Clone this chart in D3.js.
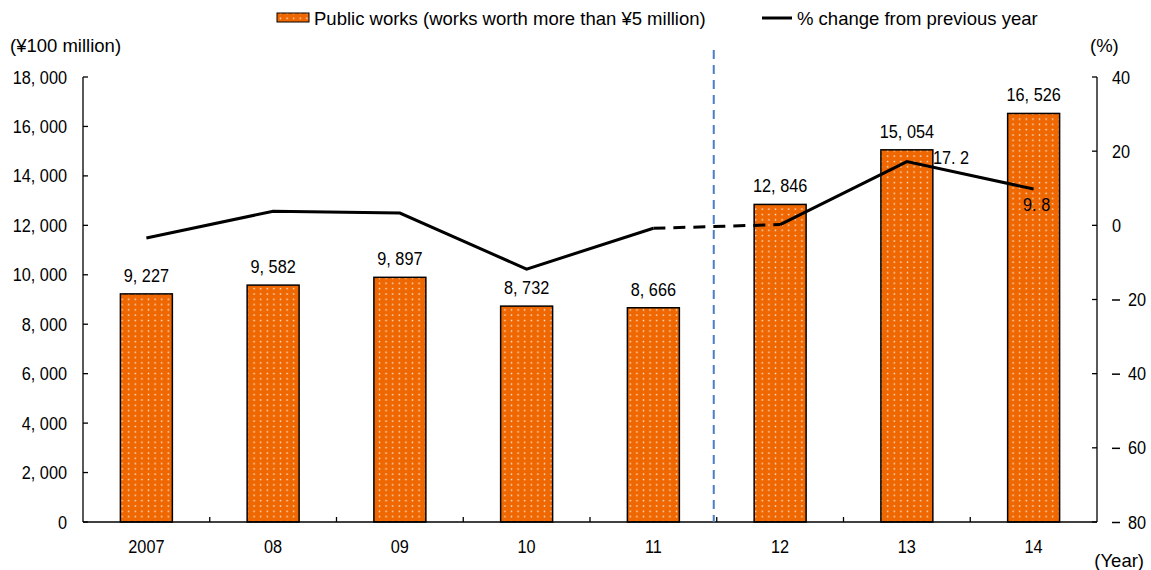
<!DOCTYPE html>
<html><head><meta charset="utf-8">
<script src="https://cdn.jsdelivr.net/npm/d3@7"></script>
<style>body{margin:0;background:#fff}svg{display:block}text{font-family:"Liberation Sans",Arial,sans-serif;fill:#000}</style>
</head><body><svg id="c" width="1151" height="570"></svg>
<script>
const years = ["2007","08","09","10","11","12","13","14"];
const works = [9227,9582,9897,8732,8666,12846,15054,16526];
const pctChange = [-3.4,3.8,3.3,-11.8,-0.8,0.2,17.2,9.8];
const leftTicks = [0,2000,4000,6000,8000,10000,12000,14000,16000,18000];
const rightTicks = [-80,-60,-40,-20,0,20,40];

const svg = d3.select("#c");
const L = 83, R = 1097, T = 77, B = 522;
const x = d3.scaleBand().domain(years).range([L,R]).paddingInner(0.59).paddingOuter(0.295);
const yL = d3.scaleLinear().domain([0,18000]).range([B,T]);
const yR = d3.scaleLinear().domain([-80,40]).range([B,T]);
const fmt = v => d3.format(",")(v).replace(/,/g,", ");

// numbers are set in a tall, narrow face: horizontally condensed text
function num(parent, px, py, str, anchor) {
  return parent.append("text")
    .attr("transform", `translate(${px},${py}) scale(0.88,1)`)
    .attr("text-anchor", anchor || "middle")
    .attr("font-size", 18.5).text(str);
}

// dotted fill for bars
const defs = svg.append("defs");
const pat = defs.append("pattern").attr("id","dots").attr("patternUnits","userSpaceOnUse")
  .attr("width",6.6).attr("height",10.6);
pat.append("rect").attr("width",6.6).attr("height",10.6).attr("fill","#ef6700");
pat.append("rect").attr("x",2.6).attr("y",1.8).attr("width",1.4).attr("height",1.4).attr("fill","#ffffff").attr("opacity",0.9);
pat.append("rect").attr("x",2.6).attr("y",7.1).attr("width",1.4).attr("height",1.4).attr("fill","#ffffff").attr("opacity",0.9);

// bars
svg.append("g").selectAll("rect").data(years).join("rect")
  .attr("x",d=>x(d)).attr("width",x.bandwidth())
  .attr("y",(d,i)=>yL(works[i])).attr("height",(d,i)=>B-yL(works[i]))
  .attr("fill","url(#dots)").attr("stroke","#000").attr("stroke-width",1.5);

// bar value labels
const vl = svg.append("g");
years.forEach((d,i)=>num(vl, x(d)+x.bandwidth()/2, yL(works[i])-12, fmt(works[i])));

// axes
const axis = svg.append("g").attr("stroke","#000").attr("stroke-width",1.3);
axis.append("line").attr("x1",L).attr("x2",L).attr("y1",T).attr("y2",B);
axis.append("line").attr("x1",R).attr("x2",R).attr("y1",T).attr("y2",B);
axis.append("line").attr("x1",L).attr("x2",R).attr("y1",B).attr("y2",B);
leftTicks.forEach(v=>axis.append("line").attr("x1",L).attr("x2",L+5).attr("y1",yL(v)).attr("y2",yL(v)));
rightTicks.forEach(v=>axis.append("line").attr("x1",R-5).attr("x2",R).attr("y1",yR(v)).attr("y2",yR(v)));
const step = x.step();
d3.range(1,years.length).forEach(i=>{
  const bx = L + step*i;
  axis.append("line").attr("x1",bx).attr("x2",bx).attr("y1",B).attr("y2",B-5);
});

const lt = svg.append("g");
leftTicks.forEach(v=>num(lt, 67, yL(v)+6.5, fmt(v), "end"));
const rt = svg.append("g");
rightTicks.forEach(v=>{
  if (v<0) {
    rt.append("line").attr("x1",1112).attr("x2",1120).attr("y1",yR(v)+0.5).attr("y2",yR(v)+0.5).attr("stroke","#000").attr("stroke-width",1.5);
    num(rt, 1128, yR(v)+6.5, String(Math.abs(v)), "start");
  } else {
    num(rt, 1112, yR(v)+6.5, String(v), "start");
  }
});
const xl = svg.append("g");
years.forEach(d=>num(xl, x(d)+x.bandwidth()/2, 553, d));

svg.append("text").attr("x",10).attr("y",52).attr("font-size",18.5).text("(¥100 million)");
svg.append("text").attr("x",1090).attr("y",52).attr("font-size",18.5).text("(%)");
svg.append("text").attr("x",1144).attr("y",567).attr("text-anchor","end").attr("font-size",18.5).text("(Year)");

// break between 2011 and 2012
const bxBreak = L + step*5 - 3;
svg.append("line").attr("x1",bxBreak).attr("x2",bxBreak).attr("y1",50).attr("y2",B)
  .attr("stroke","#4a7ec8").attr("stroke-width",2).attr("stroke-dasharray","9,6");

// % change line
const cx = d => x(d)+x.bandwidth()/2;
const pts = years.map((d,i)=>[cx(d), yR(pctChange[i])]);
const line = d3.line();
svg.append("path").attr("d",line(pts.slice(0,5))).attr("fill","none").attr("stroke","#000").attr("stroke-width",3);
svg.append("path").attr("d",line(pts.slice(4,6))).attr("fill","none").attr("stroke","#000").attr("stroke-width",3).attr("stroke-dasharray","12,8");
svg.append("path").attr("d",line(pts.slice(5))).attr("fill","none").attr("stroke","#000").attr("stroke-width",3);

const pl = svg.append("g");
num(pl, pts[6][0]+26, pts[6][1]+2, pctChange[6].toFixed(1).replace(".",". "), "start");
num(pl, pts[7][0]+3, pts[7][1]+22, pctChange[7].toFixed(1).replace(".",". "));

// legend
const lg = svg.append("g");
lg.append("rect").attr("x",277).attr("y",13).attr("width",32).attr("height",9).attr("fill","url(#dots)").attr("stroke","#000").attr("stroke-width",1);
lg.append("text").attr("x",314).attr("y",25).attr("font-size",18.5).text("Public works (works worth more than ¥5 million)");
lg.append("line").attr("x1",762).attr("x2",792).attr("y1",18).attr("y2",18).attr("stroke","#000").attr("stroke-width",3);
lg.append("text").attr("x",797).attr("y",25).attr("font-size",18.5).text("% change from previous year");
</script></body></html>
